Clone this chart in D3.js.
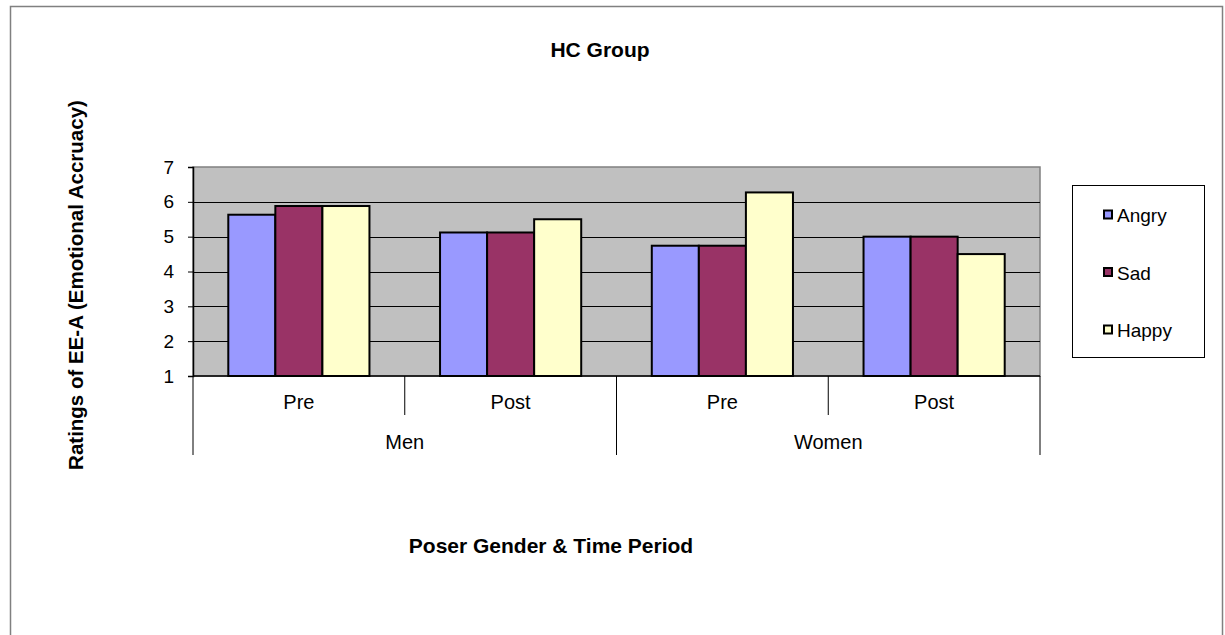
<!DOCTYPE html>
<html>
<head>
<meta charset="utf-8">
<script src="https://cdn.jsdelivr.net/npm/d3@7"></script>
<style>
  html, body { margin: 0; padding: 0; background: #fff; }
  svg { display: block; font-family: "Liberation Sans", Arial, sans-serif; }
</style>
</head>
<body>
<svg id="chart" width="1225" height="635"></svg>
<script>
// ---- data ----
const groups = ["Men", "Women"];
const periods = ["Pre", "Post"];
const seriesNames = ["Angry", "Sad", "Happy"];
const seriesColors = ["#9999FF", "#993366", "#FFFFCC"];
// one value per category: Men-Pre, Men-Post, Women-Pre, Women-Post
const angryValues = [5.63, 5.12, 4.74, 5.00];
const sadValues   = [5.88, 5.12, 4.74, 5.00];
const happyValues = [5.88, 5.50, 6.27, 4.50];
const yTickValues = [1, 2, 3, 4, 5, 6, 7];
const chartTitle = "HC Group";
const yTitle = "Ratings of EE-A (Emotional Accruacy)";
const xTitle = "Poser Gender & Time Period";

// ---- derived table ----
const categories = [];
groups.forEach(g => periods.forEach(p => categories.push({ id: g + "-" + p, group: g, period: p })));
const seriesValues = [angryValues, sadValues, happyValues];
const table = categories.map((c, i) => ({
  id: c.id,
  values: seriesNames.map((s, k) => ({ name: s, value: seriesValues[k][i], color: seriesColors[k] }))
}));

// ---- layout ----
const plot = { left: 193, right: 1040, top: 167, bottom: 376 };
const svg = d3.select("#chart");

// outer chart border
svg.append("rect")
  .attr("x", 10.5).attr("y", 6.5)
  .attr("width", 1212).attr("height", 640)
  .attr("fill", "#fff").attr("stroke", "#808080").attr("stroke-width", 1.5);

const x = d3.scaleBand().domain(categories.map(c => c.id)).range([plot.left, plot.right]).padding(0);
const xSub = d3.scaleBand().domain(seriesNames).range([0, x.bandwidth()]).paddingInner(0).paddingOuter(0.75);
const y = d3.scaleLinear().domain([1, 7]).range([plot.bottom, plot.top]);

// plot area background
svg.append("rect")
  .attr("x", plot.left).attr("y", plot.top)
  .attr("width", plot.right - plot.left).attr("height", plot.bottom - plot.top)
  .attr("fill", "#C0C0C0").attr("stroke", "#808080").attr("stroke-width", 1.5);

// horizontal gridlines
svg.append("g").selectAll("line")
  .data(yTickValues.filter(v => v > 1 && v < 7))
  .join("line")
  .attr("x1", plot.left).attr("x2", plot.right)
  .attr("y1", d => Math.round(y(d)) + 0.5).attr("y2", d => Math.round(y(d)) + 0.5)
  .attr("stroke", "#000").attr("stroke-width", 1);

// bars
const catG = svg.append("g").selectAll("g")
  .data(table).join("g")
  .attr("transform", d => `translate(${x(d.id)},0)`);
catG.selectAll("rect")
  .data(d => d.values).join("rect")
  .attr("x", d => xSub(d.name))
  .attr("y", d => y(d.value))
  .attr("width", xSub.bandwidth())
  .attr("height", d => y(1) - y(d.value))
  .attr("fill", d => d.color)
  .attr("stroke", "#000").attr("stroke-width", 2);

// y axis
const yAxis = svg.append("g")
  .attr("transform", `translate(${plot.left},0)`)
  .call(d3.axisLeft(y).tickValues(yTickValues).tickSize(5).tickPadding(14).tickFormat(d3.format("d")));
yAxis.select(".domain").attr("stroke", "#000").attr("stroke-width", 1.5);
yAxis.selectAll(".tick line").attr("stroke", "#000");
yAxis.selectAll(".tick text")
  .attr("font-size", 19).attr("fill", "#000")
  .attr("font-family", "'Liberation Sans', Arial, sans-serif");

// category axis: baseline and divider lines
const axisG = svg.append("g");
axisG.append("line")
  .attr("x1", plot.left).attr("x2", plot.right)
  .attr("y1", plot.bottom).attr("y2", plot.bottom)
  .attr("stroke", "#000").attr("stroke-width", 1.5);

const periodDividers = categories.filter(c => c.period !== periods[0]).map(c => x(c.id));
const groupEdges = groups.map(g => x(categories.find(c => c.group === g).id)).concat([plot.right]);

axisG.selectAll(".pdiv").data(periodDividers).join("line")
  .attr("class", "pdiv")
  .attr("x1", d => d).attr("x2", d => d)
  .attr("y1", plot.bottom).attr("y2", 415)
  .attr("stroke", "#000").attr("stroke-width", 1);
axisG.selectAll(".gdiv").data(groupEdges).join("line")
  .attr("class", "gdiv")
  .attr("x1", d => d).attr("x2", d => d)
  .attr("y1", plot.bottom).attr("y2", 455)
  .attr("stroke", "#000").attr("stroke-width", 1);

// period labels
axisG.selectAll(".plabel").data(categories).join("text")
  .attr("class", "plabel")
  .attr("x", d => x(d.id) + x.bandwidth() / 2)
  .attr("y", 409)
  .attr("text-anchor", "middle")
  .attr("font-size", 20).attr("fill", "#000")
  .text(d => d.period);

// group labels
axisG.selectAll(".glabel").data(groups).join("text")
  .attr("class", "glabel")
  .attr("x", g => {
    const ids = categories.filter(c => c.group === g).map(c => x(c.id));
    return (d3.min(ids) + d3.max(ids) + x.bandwidth()) / 2;
  })
  .attr("y", 449)
  .attr("text-anchor", "middle")
  .attr("font-size", 20).attr("fill", "#000")
  .text(g => g);

// titles
svg.append("text")
  .attr("x", 600).attr("y", 57)
  .attr("text-anchor", "middle")
  .attr("font-size", 21).attr("font-weight", "bold")
  .text(chartTitle);

svg.append("text")
  .attr("transform", "translate(83,285) rotate(-90)")
  .attr("text-anchor", "middle")
  .attr("font-size", 20.5).attr("font-weight", "bold")
  .text(yTitle);

svg.append("text")
  .attr("x", 551).attr("y", 553)
  .attr("text-anchor", "middle")
  .attr("font-size", 21).attr("font-weight", "bold")
  .text(xTitle);

// legend
const legend = svg.append("g");
legend.append("rect")
  .attr("x", 1072.5).attr("y", 185.5)
  .attr("width", 132).attr("height", 172)
  .attr("fill", "#fff").attr("stroke", "#000").attr("stroke-width", 1);
const items = legend.selectAll(".item")
  .data(seriesNames.map((s, k) => ({ name: s, color: seriesColors[k] })))
  .join("g")
  .attr("class", "item")
  .attr("transform", (d, i) => `translate(0,${215 + i * 57.5})`);
items.append("rect")
  .attr("x", 1104).attr("y", -4.5)
  .attr("width", 8).attr("height", 8)
  .attr("fill", d => d.color)
  .attr("stroke", "#000").attr("stroke-width", 2);
items.append("text")
  .attr("x", 1117).attr("y", 7)
  .attr("font-size", 19).attr("fill", "#000")
  .text(d => d.name);
</script>
</body>
</html>
